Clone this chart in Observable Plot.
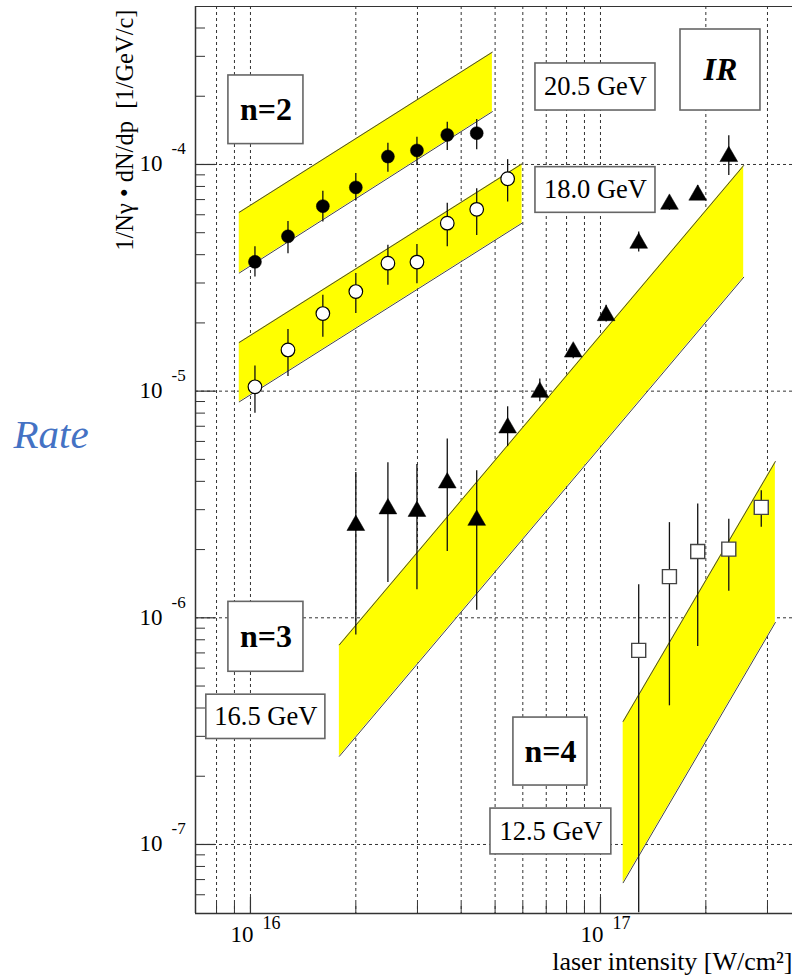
<!DOCTYPE html>
<html>
<head>
<meta charset="utf-8">
<script src="https://cdn.jsdelivr.net/npm/d3@7"></script>
<script src="https://cdn.jsdelivr.net/npm/@observablehq/plot@0.6"></script>
<style>
  html, body { margin: 0; padding: 0; background: #fff; }
  #chart svg { display: block; }
</style>
</head>
<body>
<div id="chart"></div>
<script>
// ---------------- DATA ----------------
// x: laser intensity [W/cm^2], y: 1/Nγ dN/dp [1/GeV/c]

// n=2, 20.5 GeV (filled circles)
const n2a_x  = [1.03e16, 1.28e16, 1.61e16, 2.0e16, 2.47e16, 2.99e16, 3.65e16, 4.43e16];
const n2a_y  = [3.72e-5, 4.82e-5, 6.55e-5, 7.92e-5, 1.084e-4, 1.153e-4, 1.35e-4, 1.375e-4];
const n2a_lo = [3.19e-5, 4.04e-5, 5.57e-5, 6.94e-5, 9.25e-5, 9.9e-5, 1.153e-4, 1.16e-4];
const n2a_hi = [4.33e-5, 5.61e-5, 7.61e-5, 9.13e-5, 1.24e-4, 1.318e-4, 1.535e-4, 1.58e-4];

// n=2, 18.0 GeV (open circles)
const n2b_x  = [1.03e16, 1.28e16, 1.61e16, 2.0e16, 2.47e16, 2.99e16, 3.65e16, 4.43e16, 5.43e16];
const n2b_y  = [1.045e-5, 1.52e-5, 2.20e-5, 2.75e-5, 3.67e-5, 3.71e-5, 5.51e-5, 6.34e-5, 8.65e-5];
const n2b_lo = [7.98e-6, 1.16e-5, 1.73e-5, 2.20e-5, 2.93e-5, 2.98e-5, 4.33e-5, 4.86e-5, 6.83e-5];
const n2b_hi = [1.29e-5, 1.87e-5, 2.65e-5, 3.30e-5, 4.40e-5, 4.44e-5, 6.75e-5, 7.82e-5, 1.05e-4];

// n=3, 16.5 GeV (filled triangles)
const n3_x  = [2.0e16, 2.47e16, 2.99e16, 3.65e16, 4.43e16, 5.43e16, 6.71e16, 8.36e16, 1.038e17, 1.286e17, 1.574e17, 1.896e17, 2.326e17];
const n3_y  = [2.61e-6, 3.09e-6, 3.01e-6, 4.02e-6, 2.75e-6, 7.03e-6, 1.01e-5, 1.52e-5, 2.20e-5, 4.59e-5, 6.82e-5, 7.48e-5, 1.107e-4];
const n3_lo = [8.4e-7, 1.43e-6, 1.33e-6, 1.96e-6, 1.08e-6, 5.69e-6, 8.97e-6, 1.39e-5, 2.02e-5, 4.11e-5, 6.27e-5, 6.94e-5, 8.95e-5];
const n3_hi = [4.38e-6, 4.83e-6, 4.75e-6, 6.15e-6, 4.45e-6, 8.53e-6, 1.13e-5, 1.62e-5, 2.39e-5, 5.04e-5, 7.18e-5, 8.08e-5, 1.34e-4];

// n=4, 12.5 GeV (open squares)
const n4_x  = [1.286e17, 1.574e17, 1.896e17, 2.326e17, 2.88e17];
const n4_y  = [7.18e-7, 1.52e-6, 1.96e-6, 2.01e-6, 3.07e-6];
const n4_lo = [5.0e-8, 4.09e-7, 7.48e-7, 1.31e-6, 2.51e-6];
const n4_hi = [1.40e-6, 2.63e-6, 3.18e-6, 2.72e-6, 3.64e-6];

// theory bands (yellow): band edges at start and end intensity
const bandNames = ["n2_20.5", "n2_18.0", "n3_16.5", "n4_12.5"];
const bandX0   = [9.29e15, 9.29e15, 1.795e16, 1.161e17];
const bandX1   = [4.91e16, 5.97e16, 2.566e17, 3.16e17];
const bandLo0  = [3.32e-5, 8.97e-6, 2.45e-7, 6.78e-8];
const bandHi0  = [6.15e-5, 1.64e-5, 7.6e-7, 3.49e-7];
const bandLo1  = [1.71e-4, 5.51e-5, 3.18e-5, 9.54e-7];
const bandHi1  = [3.13e-4, 1.007e-4, 9.9e-5, 4.89e-6];

// axes
const xDomain = [6.966e15, 3.537e17];
const yDomain = [4.96e-8, 4.977e-4];
const xTickValues = [8e15, 9e15, 1e16, 2e16, 3e16, 4e16, 5e16, 6e16, 7e16, 8e16, 9e16, 1e17, 2e17, 3e17];
const xMajor = [1e16, 1e17];
const xMajorExp = ["16", "17"];
const yMajor = [1e-7, 1e-6, 1e-5, 1e-4];
const yMajorExp = ["-7", "-6", "-5", "-4"];
const yMinor = [6e-8, 7e-8, 8e-8, 9e-8,
  2e-7, 3e-7, 4e-7, 5e-7, 6e-7, 7e-7, 8e-7, 9e-7,
  2e-6, 3e-6, 4e-6, 5e-6, 6e-6, 7e-6, 8e-6, 9e-6,
  2e-5, 3e-5, 4e-5, 5e-5, 6e-5, 7e-5, 8e-5, 9e-5,
  2e-4, 3e-4, 4e-4];

const yTitle = "1/Nγ • dN/dp\u00a0\u00a0[1/GeV/c]";
const xTitle = "laser intensity [W/cm²]";
const sideLabel = "Rate";

// annotation boxes (labels, kinds, and their corners in data units)
const boxLabels = ["n=2", "20.5 GeV", "IR", "18.0 GeV", "n=3", "16.5 GeV", "n=4", "12.5 GeV"];
const boxKinds  = ["order", "energy", "ir", "energy", "order", "energy", "order", "energy"];
const boxX1 = [8.65e15, 6.52e16, 1.693e17, 6.52e16, 8.65e15, 7.48e15, 5.64e16, 4.85e16];
const boxX2 = [1.417e16, 1.436e17, 2.865e17, 1.436e17, 1.417e16, 1.637e16, 9.18e16, 1.074e17];
const boxY1 = [1.23e-4, 1.73e-4, 1.73e-4, 6.12e-5, 5.78e-7, 2.92e-7, 1.82e-7, 9.04e-8];
const boxY2 = [2.47e-4, 2.79e-4, 3.94e-4, 9.73e-5, 1.176e-6, 4.58e-7, 3.63e-7, 1.44e-7];

// ---------------- BUILD ----------------
const pts = (x, y, lo, hi) => x.map((v, i) => ({x: v, y: y[i], lo: lo[i], hi: hi[i]}));
const P2a = pts(n2a_x, n2a_y, n2a_lo, n2a_hi);
const P2b = pts(n2b_x, n2b_y, n2b_lo, n2b_hi);
const P3  = pts(n3_x, n3_y, n3_lo, n3_hi);
const P4  = pts(n4_x, n4_y, n4_lo, n4_hi);
const bands = bandNames.flatMap((name, i) => [
  {band: name, x: bandX0[i], lo: bandLo0[i], hi: bandHi0[i]},
  {band: name, x: bandX1[i], lo: bandLo1[i], hi: bandHi1[i]}
]);
const boxes = boxLabels.map((label, i) => ({
  label, kind: boxKinds[i], x1: boxX1[i], x2: boxX2[i], y1: boxY1[i], y2: boxY2[i],
  cx: Math.sqrt(boxX1[i] * boxX2[i]), cy: Math.sqrt(boxY1[i] * boxY2[i])
}));

const serif = "'Liberation Serif', 'Times New Roman', Times, serif";
const W = 792, H = 976, mL = 195, mR = 0, mT = 6, mB = 63;
const frameW = W - mL - mR, frameH = H - mT - mB;
const gridStyle = {stroke: "#333", strokeWidth: 1, strokeDasharray: "3,3"};
const frameStyle = {stroke: "#333", strokeWidth: 1.5};
const errStyle = {stroke: "#111", strokeWidth: 1.3};

const chart = Plot.plot({
  width: W, height: H,
  marginLeft: mL, marginRight: mR, marginTop: mT, marginBottom: mB,
  x: {type: "log", domain: xDomain, axis: null},
  y: {type: "log", domain: yDomain, axis: null},
  style: {fontFamily: serif, background: "#fff", color: "#000"},
  marks: [
    // grid
    Plot.ruleX(xTickValues, gridStyle),
    Plot.ruleY(yMajor, gridStyle),
    // theory bands
    Plot.areaY(bands, {x: "x", y1: "lo", y2: "hi", z: "band", fill: "#ffff00", fillOpacity: 1}),
    Plot.line(bands, {x: "x", y: "hi", z: "band", stroke: "#444", strokeWidth: 1}),
    Plot.line(bands, {x: "x", y: "lo", z: "band", stroke: "#444", strokeWidth: 1}),
    // error bars
    Plot.ruleX(P2a, {x: "x", y1: "lo", y2: "hi", ...errStyle}),
    Plot.ruleX(P2b, {x: "x", y1: "lo", y2: "hi", ...errStyle}),
    Plot.ruleX(P3,  {x: "x", y1: "lo", y2: "hi", ...errStyle}),
    Plot.ruleX(P4,  {x: "x", y1: "lo", y2: "hi", ...errStyle}),
    // markers
    Plot.dot(P2a, {x: "x", y: "y", r: 6.5, fill: "#000", stroke: "#000", strokeWidth: 0.5}),
    Plot.dot(P2b, {x: "x", y: "y", r: 6.8, fill: "#fff", stroke: "#000", strokeWidth: 1.2}),
    Plot.dot(P3,  {x: "x", y: "y", r: 6.6, symbol: "triangle", fill: "#000", stroke: "#000", strokeWidth: 0.5, dy: 2}),
    Plot.dot(P4,  {x: "x", y: "y", r: 7.9, symbol: "square", fill: "#fff", stroke: "#444", strokeWidth: 1.4}),
    // annotation boxes
    Plot.rect(boxes, {x1: "x1", x2: "x2", y1: "y1", y2: "y2", fill: "#fff", stroke: "#666", strokeWidth: 1.6}),
    Plot.text(boxes.filter(d => d.kind === "order"), {x: "cx", y: "cy", text: "label", fontSize: 32, fontWeight: "bold", fill: "#000"}),
    Plot.text(boxes.filter(d => d.kind === "energy"), {x: "cx", y: "cy", text: "label", fontSize: 26.5, fill: "#000"}),
    Plot.text(boxes.filter(d => d.kind === "ir"), {x: "cx", y: "cy", text: "label", fontSize: 32, fontWeight: "bold", fontStyle: "italic", fill: "#000"}),
    // axis ticks (inward)
    Plot.tickY(yMinor, {y: d => d, insetRight: frameW - 10, stroke: "#333", strokeWidth: 1}),
    Plot.tickY(yMajor, {y: d => d, insetRight: frameW - 20, stroke: "#333", strokeWidth: 1.2}),
    Plot.tickX(xTickValues, {x: d => d, insetTop: frameH - 10, stroke: "#333", strokeWidth: 1}),
    Plot.tickX(xMajor, {x: d => d, insetTop: frameH - 16, stroke: "#333", strokeWidth: 1.2}),
    // frame (left, bottom, top)
    Plot.ruleX([xDomain[0]], frameStyle),
    Plot.ruleY([yDomain[0]], frameStyle),
    Plot.ruleY([yDomain[1]], {stroke: "#333", strokeWidth: 1.2}),
    // y tick labels
    Plot.text(yMajor, {x: xDomain[0], y: d => d, text: () => "10", dx: -56, dy: 7, textAnchor: "start", lineAnchor: "bottom", fontSize: 23, fill: "#000"}),
    Plot.text(yMajor, {x: xDomain[0], y: d => d, text: (d, i) => yMajorExp[i], dx: -24, dy: -10, textAnchor: "start", lineAnchor: "bottom", fontSize: 17, fill: "#000"}),
    // x tick labels
    Plot.text(xMajor, {x: d => d, y: yDomain[0], text: () => "10", dx: -20, dy: 28, textAnchor: "start", lineAnchor: "bottom", fontSize: 23, fill: "#000"}),
    Plot.text(xMajor, {x: d => d, y: yDomain[0], text: (d, i) => xMajorExp[i], dx: 12, dy: 15, textAnchor: "start", lineAnchor: "bottom", fontSize: 18, fill: "#000"}),
    // titles
    Plot.text([yTitle], {frameAnchor: "top-left", text: d => d, rotate: -90, textAnchor: "end", lineAnchor: "bottom", dx: -63, dy: 3, fontSize: 24.5, fill: "#000"}),
    Plot.text([xTitle], {frameAnchor: "bottom-right", text: d => d, textAnchor: "end", lineAnchor: "bottom", dx: 0, dy: 56, fontSize: 26, fill: "#000"}),
    Plot.text([sideLabel], {frameAnchor: "top-left", text: d => d, textAnchor: "start", lineAnchor: "bottom", dx: -182, dy: 441, fontSize: 41, fontStyle: "italic", fill: "#4472c4"})
  ]
});
document.getElementById("chart").appendChild(chart);
</script>
</body>
</html>
